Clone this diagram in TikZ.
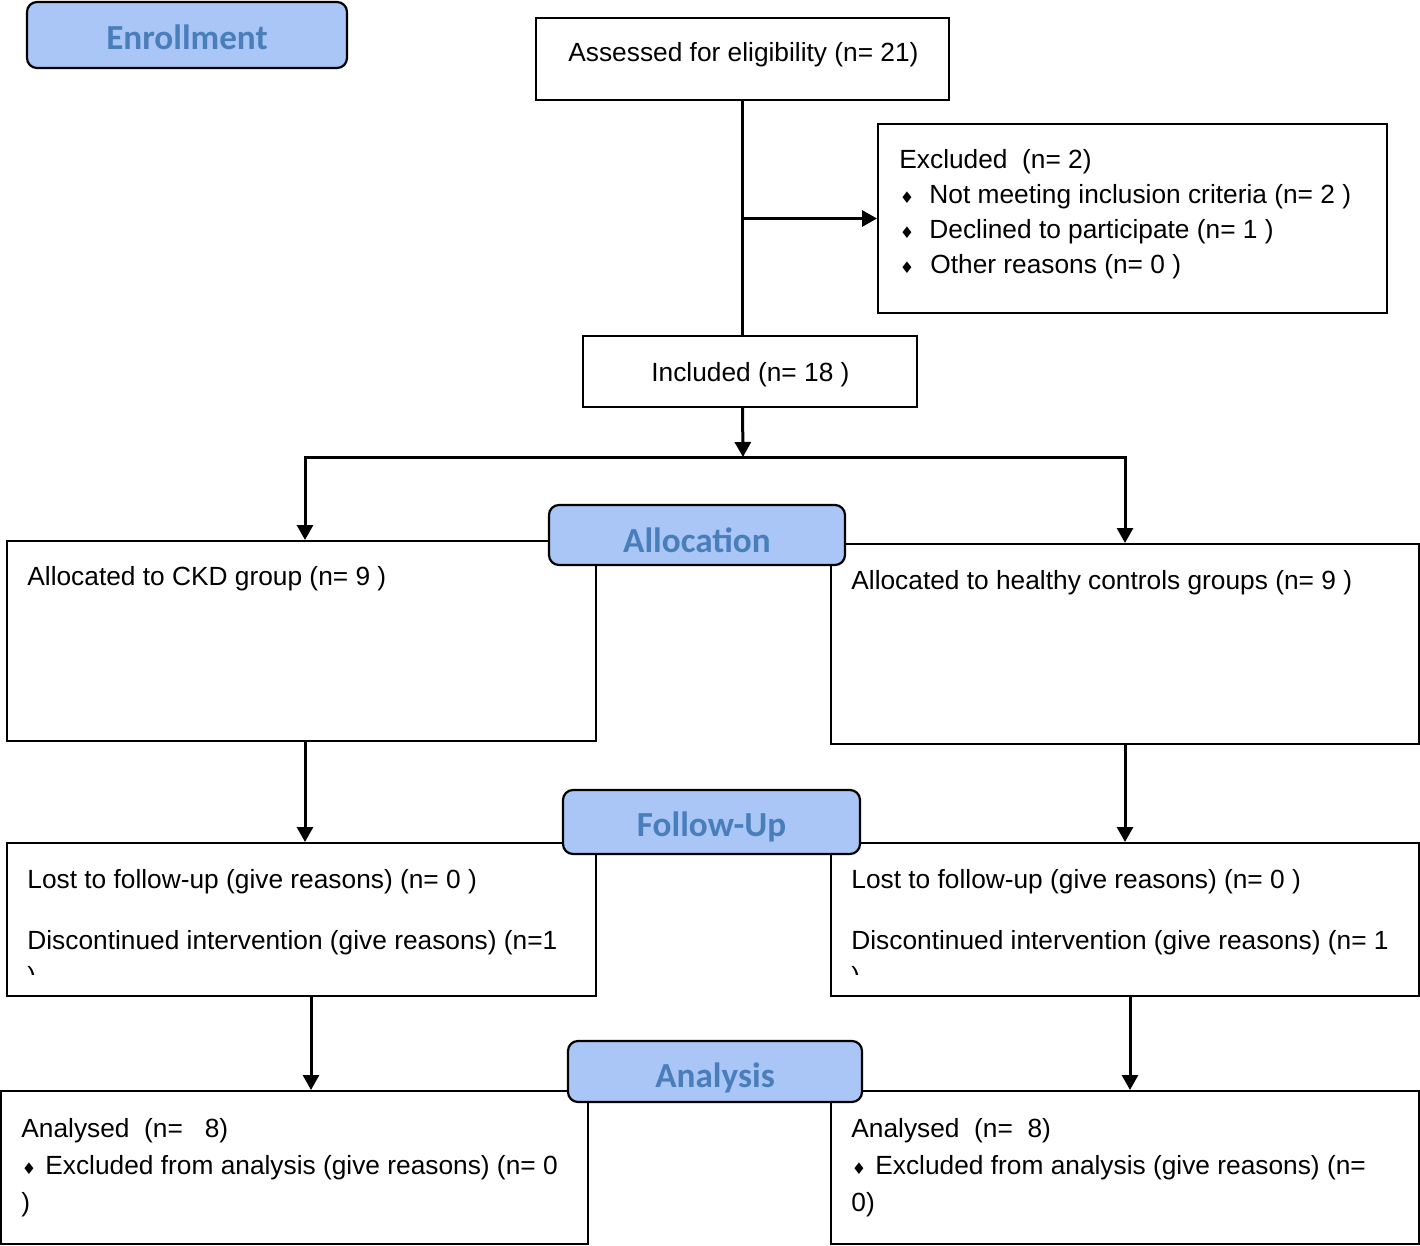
\documentclass[tikz,border=0pt]{standalone}
\usepackage{fontspec}
\setmainfont{Liberation Sans}
\newfontfamily\hdrfont{Carlito}
\newfontfamily\dv{DejaVu Sans}
\usetikzlibrary{arrows.meta,fit}
\definecolor{hdrfill}{RGB}{170,198,246}
\definecolor{hdrtext}{RGB}{74,126,187}
\begin{document}
\begin{tikzpicture}[x=0.5pt,y=-0.5pt,
 box/.style={draw=black, line width=1pt, inner sep=0pt},
 hdr/.style={draw=black, line width=1.1pt, rounded corners=5pt, fill=hdrfill, inner sep=0pt},
 hdrtxt/.style={font=\hdrfont\bfseries\fontsize{17.6}{17.6}\selectfont, text=hdrtext},
 txt/.style={anchor=base west, inner sep=0pt, font=\fontsize{13.15}{15}\selectfont},
 bul/.style={anchor=base, inner sep=0pt, font=\dv\fontsize{8}{8}\selectfont},
 line/.style={line width=1.5pt},
 arr/.style={line width=1.5pt, -{Triangle[length=7.5pt,width=8pt]}}]
\useasboundingbox (0,0) rectangle (1420,1246);

% boxes
\node[box, fit={(536,18) (949,100)}] (assessed) {};
\node[box, fit={(878,124) (1387,313)}] (excluded) {};
\node[box, fit={(583,336) (917,407)}] (included) {};
\node[box, fit={(7,541) (596,741)}] (ckd) {};
\node[box, fit={(831,544) (1419,744)}] (healthy) {};
\node[box, fit={(7,843) (596,996)}] (lostL) {};
\node[box, fit={(831,843) (1419,996)}] (lostR) {};
\node[box, fit={(1,1091) (588,1244)}] (anaL) {};
\node[box, fit={(831,1091) (1419,1244)}] (anaR) {};

% texts
\node[txt] (tAss) at (568,62) {Assessed for eligibility (n= 21)};
\node[txt] (tEx0) at (899,169) {Excluded\ \ (n= 2)};
\node[bul] (bEx1) at (907,204) {♦};
\node[txt] (tEx1) at (929,204) {Not meeting inclusion criteria (n= 2 )};
\node[bul] (bEx2) at (907,239) {♦};
\node[txt] (tEx2) at (929,239) {Declined to participate (n= 1 )};
\node[bul] (bEx3) at (907,274) {♦};
\node[txt] (tEx3) at (930,274) {Other reasons (n= 0 )};
\node[txt] (tInc) at (651,381) {Included (n= 18 )};
\node[txt] (tCkd) at (27,585) {Allocated to CKD group (n= 9 )};
\node[txt] (tHea) at (851,589) {Allocated to healthy controls groups (n= 9 )};
\node[txt] (tLostL) at (27,888) {Lost to follow-up (give reasons) (n= 0 )};
\node[txt] (tDisL) at (27,949) {Discontinued intervention (give reasons) (n=1};
\node[txt] (tLostR) at (851,888) {Lost to follow-up (give reasons) (n= 0 )};
\node[txt] (tDisR) at (851,949) {Discontinued intervention (give reasons) (n= 1};
\begin{scope}
\clip (0,955) rectangle (1420,974);
\node[txt] (tParL) at (27,985) {)};
\node[txt] (tParR) at (851,985) {)};
\end{scope}
\node[txt] (tAnaL) at (21,1137) {Analysed\ \ (n=\ \ \ 8)};
\node[bul] (bAnaL) at (29,1174) {♦};
\node[txt] (tAnaL2) at (45,1174) {Excluded from analysis (give reasons) (n= 0};
\node[txt] (tAnaL3) at (21,1211) {)};
\node[txt] (tAnaR) at (851,1137) {Analysed\ \ (n=\ \ 8)};
\node[bul] (bAnaR) at (859,1174) {♦};
\node[txt] (tAnaR2) at (875,1174) {Excluded from analysis (give reasons) (n=};
\node[txt] (tAnaR3) at (851,1211) {0)};

% connectors
\coordinate (split) at (743,457);
\coordinate (jL) at (305,457);
\coordinate (jR) at (1125,457);
\coordinate (kL) at (311,0);
\coordinate (kR) at (1130,0);
\draw[line] (assessed.south) -- (assessed.south |- included.north);
\draw[arr] (assessed.south |- excluded.west) -- (excluded.west);
\draw[arr] (assessed.south |- included.south) -- (split);
\draw[line, line cap=rect] (jL) -- (jR);
\draw[arr] (jL) -- (jL |- ckd.north);
\draw[arr] (jR) -- (jR |- healthy.north);
\draw[arr] (jL |- ckd.south) -- (jL |- lostL.north);
\draw[arr] (jR |- healthy.south) -- (jR |- lostR.north);
\draw[arr] (kL |- lostL.south) -- (kL |- anaL.north);
\draw[arr] (kR |- lostR.south) -- (kR |- anaR.north);

% headers
\node[hdr, fit={(27,2) (347,68)}] (hEnr) {};
\node[hdrtxt] at ([yshift=-1pt]hEnr.center) {Enrollment};
\node[hdr, fit={(549,505) (845,565)}] (hAll) {};
\node[hdrtxt] at ([yshift=-2.5pt]hAll.center) {Allocation};
\node[hdr, fit={(563,790) (860,854)}] (hFol) {};
\node[hdrtxt] at ([yshift=-2.5pt]hFol.center) {Follow-Up};
\node[hdr, fit={(568,1041) (862,1102)}] (hAna) {};
\node[hdrtxt] at ([yshift=-3pt]hAna.center) {Analysis};
\end{tikzpicture}
\end{document}
